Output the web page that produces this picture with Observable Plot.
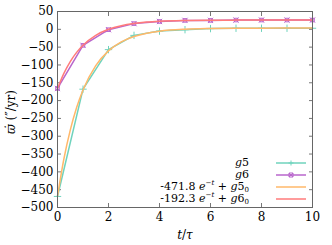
<!DOCTYPE html>
<html><head><meta charset="utf-8">
<script src="https://cdn.jsdelivr.net/npm/d3@7"></script>
<script src="https://cdn.jsdelivr.net/npm/@observablehq/plot@0.6"></script>
<style>
body{margin:0;background:#fff;}
#wrap{position:relative;width:332px;height:245px;font-family:"DejaVu Serif","Liberation Serif",serif;}
#wrap svg text{font-family:"DejaVu Serif","Liberation Serif",serif !important;}
.lab{position:absolute;font-size:12px;line-height:12px;color:#000;white-space:nowrap;}
.leg{position:absolute;font-size:11px;line-height:11px;text-align:right;white-space:nowrap;}
.sp{position:relative;font-size:7px;}
</style></head>
<body><div id="wrap"></div>
<script>
const tSteps = [0,1,2,3,4,5,6,7,8,9,10];
const g5 = [-469,-168,-57,-17,-5,-1,2,3,3,3,3];
const g6 = [-166,-45,-1,16,22,25,25,26,26,26,26];
const tFit = [0,0.25,0.5,0.75,1,1.5,2,2.5,3,3.5,4,5,6,7,8,9,10];
const fit5 = [-468.3,-363.9,-282.7,-219.4,-170.1,-101.8,-60.4,-35.2,-20.0,-10.8,-5.1,0.3,2.3,3.1,3.3,3.4,3.5];
const fit6 = [-166.3,-123.8,-90.6,-64.8,-44.7,-16.9,0,10.2,16.4,20.2,22.5,24.7,25.5,25.8,25.9,26,26];
const xTicks = [0,2,4,6,8,10];
const yTicks = [50,0,-50,-100,-150,-200,-250,-300,-350,-400,-450,-500];
const colors = ["#6fd3bd","#b866cc","#ffb86a","#ff7b7b"];

const d5 = tSteps.map((t,i)=>({t,v:g5[i]}));
const d6 = tSteps.map((t,i)=>({t,v:g6[i]}));
const f5 = tFit.map((t,i)=>({t,v:fit5[i]}));
const f6 = tFit.map((t,i)=>({t,v:fit6[i]}));
const ff = "DejaVu Serif, Liberation Serif, serif";

const chart = Plot.plot({
  width:332, height:245,
  marginLeft:57, marginRight:20, marginTop:11, marginBottom:38,
  style:{fontFamily:ff, fontSize:"12px", background:"#fff"},
  x:{domain:[0,10], label:null},
  y:{domain:[-500,50], label:null},
  marks:[
    Plot.axisX(xTicks,{anchor:"bottom", tickSize:0, tickPadding:5, fontSize:12, fontFamily:ff, label:null}),
    Plot.axisY(yTicks,{anchor:"left", tickSize:0, tickPadding:4, fontSize:12, fontFamily:ff, label:null, tickFormat:d=>d<0?"\u2212"+(-d):String(d)}),
    Plot.axisX(xTicks,{anchor:"bottom", tickSize:-4, tickFormat:()=>"", label:null, stroke:"#777"}),
    Plot.axisX(xTicks,{anchor:"top", tickSize:-4, tickFormat:()=>"", label:null, stroke:"#777"}),
    Plot.axisY(yTicks,{anchor:"left", tickSize:-4, tickFormat:()=>"", label:null, stroke:"#777"}),
    Plot.axisY(yTicks,{anchor:"right", tickSize:-4, tickFormat:()=>"", label:null, stroke:"#777"}),
    Plot.line(d5,{x:"t",y:"v",stroke:colors[0],strokeWidth:1.5}),
    Plot.dot(d5,{x:"t",y:"v",stroke:colors[0],symbol:"plus",r:2.5,strokeWidth:1}),
    Plot.line(d6,{x:"t",y:"v",stroke:colors[1],strokeWidth:1.5}),
    Plot.dot(d6,{x:"t",y:"v",stroke:colors[1],symbol:"times",r:2.5,strokeWidth:1}),
    Plot.dot(d6,{x:"t",y:"v",stroke:colors[1],symbol:"square",r:2,strokeWidth:1}),
    Plot.line(f5,{x:"t",y:"v",stroke:colors[2],strokeWidth:1.5,curve:"monotone-x"}),
    Plot.line(f6,{x:"t",y:"v",stroke:colors[3],strokeWidth:1.5,curve:"monotone-x"}),
    Plot.frame({stroke:"#666"})
  ]
});
const wrap = document.getElementById("wrap");
wrap.appendChild(chart);

function addDiv(html, style, cls){const d=document.createElement("div");d.className=cls||"lab";d.innerHTML=html;Object.assign(d.style,style);wrap.appendChild(d);return d;}
addDiv('<i>t</i>/<i>τ</i>',{left:"185px",top:"235px",transform:"translate(-50%,-50%)"});
addDiv('<i>ϖ̇</i>&nbsp;(″/yr)',{left:"11px",top:"112px",transform:"translate(-50%,-50%) rotate(-90deg)"});

const legTexts = ['<i>g</i>5','<i>g</i>6',
 '-471.8 <i>e</i><span class="sp" style="top:-5px">−<i>t</i></span> + <i>g</i>5<span class="sp" style="top:2px">0</span>',
 '-192.3 <i>e</i><span class="sp" style="top:-5px">−<i>t</i></span> + <i>g</i>6<span class="sp" style="top:2px">0</span>'];
const legY = [163,175,187,199];
legTexts.forEach((t,i)=>{
  addDiv(t,{right:(332-249)+"px",top:(legY[i]-6)+"px"},"leg");
});
const ns="http://www.w3.org/2000/svg";
const svg=document.createElementNS(ns,"svg");
svg.setAttribute("width",332);svg.setAttribute("height",245);
svg.style.position="absolute";svg.style.left="0";svg.style.top="0";
legY.forEach((y,i)=>{
  const l=document.createElementNS(ns,"line");
  l.setAttribute("x1",276);l.setAttribute("x2",306);l.setAttribute("y1",y);l.setAttribute("y2",y);
  l.setAttribute("stroke",colors[i]);l.setAttribute("stroke-width",1.5);svg.appendChild(l);
  if(i<2){
    const p=document.createElementNS(ns,"path");
    p.setAttribute("d", i==0?`M291,${y-2.5}v5M288.5,${y}h5`:`M291,${y}m-2,-2l4,4m0,-4l-4,4M289,${y-2}h4v4h-4z`);
    p.setAttribute("stroke",colors[i]);p.setAttribute("fill","none");svg.appendChild(p);
  }
});
wrap.appendChild(svg);
</script></body></html>
